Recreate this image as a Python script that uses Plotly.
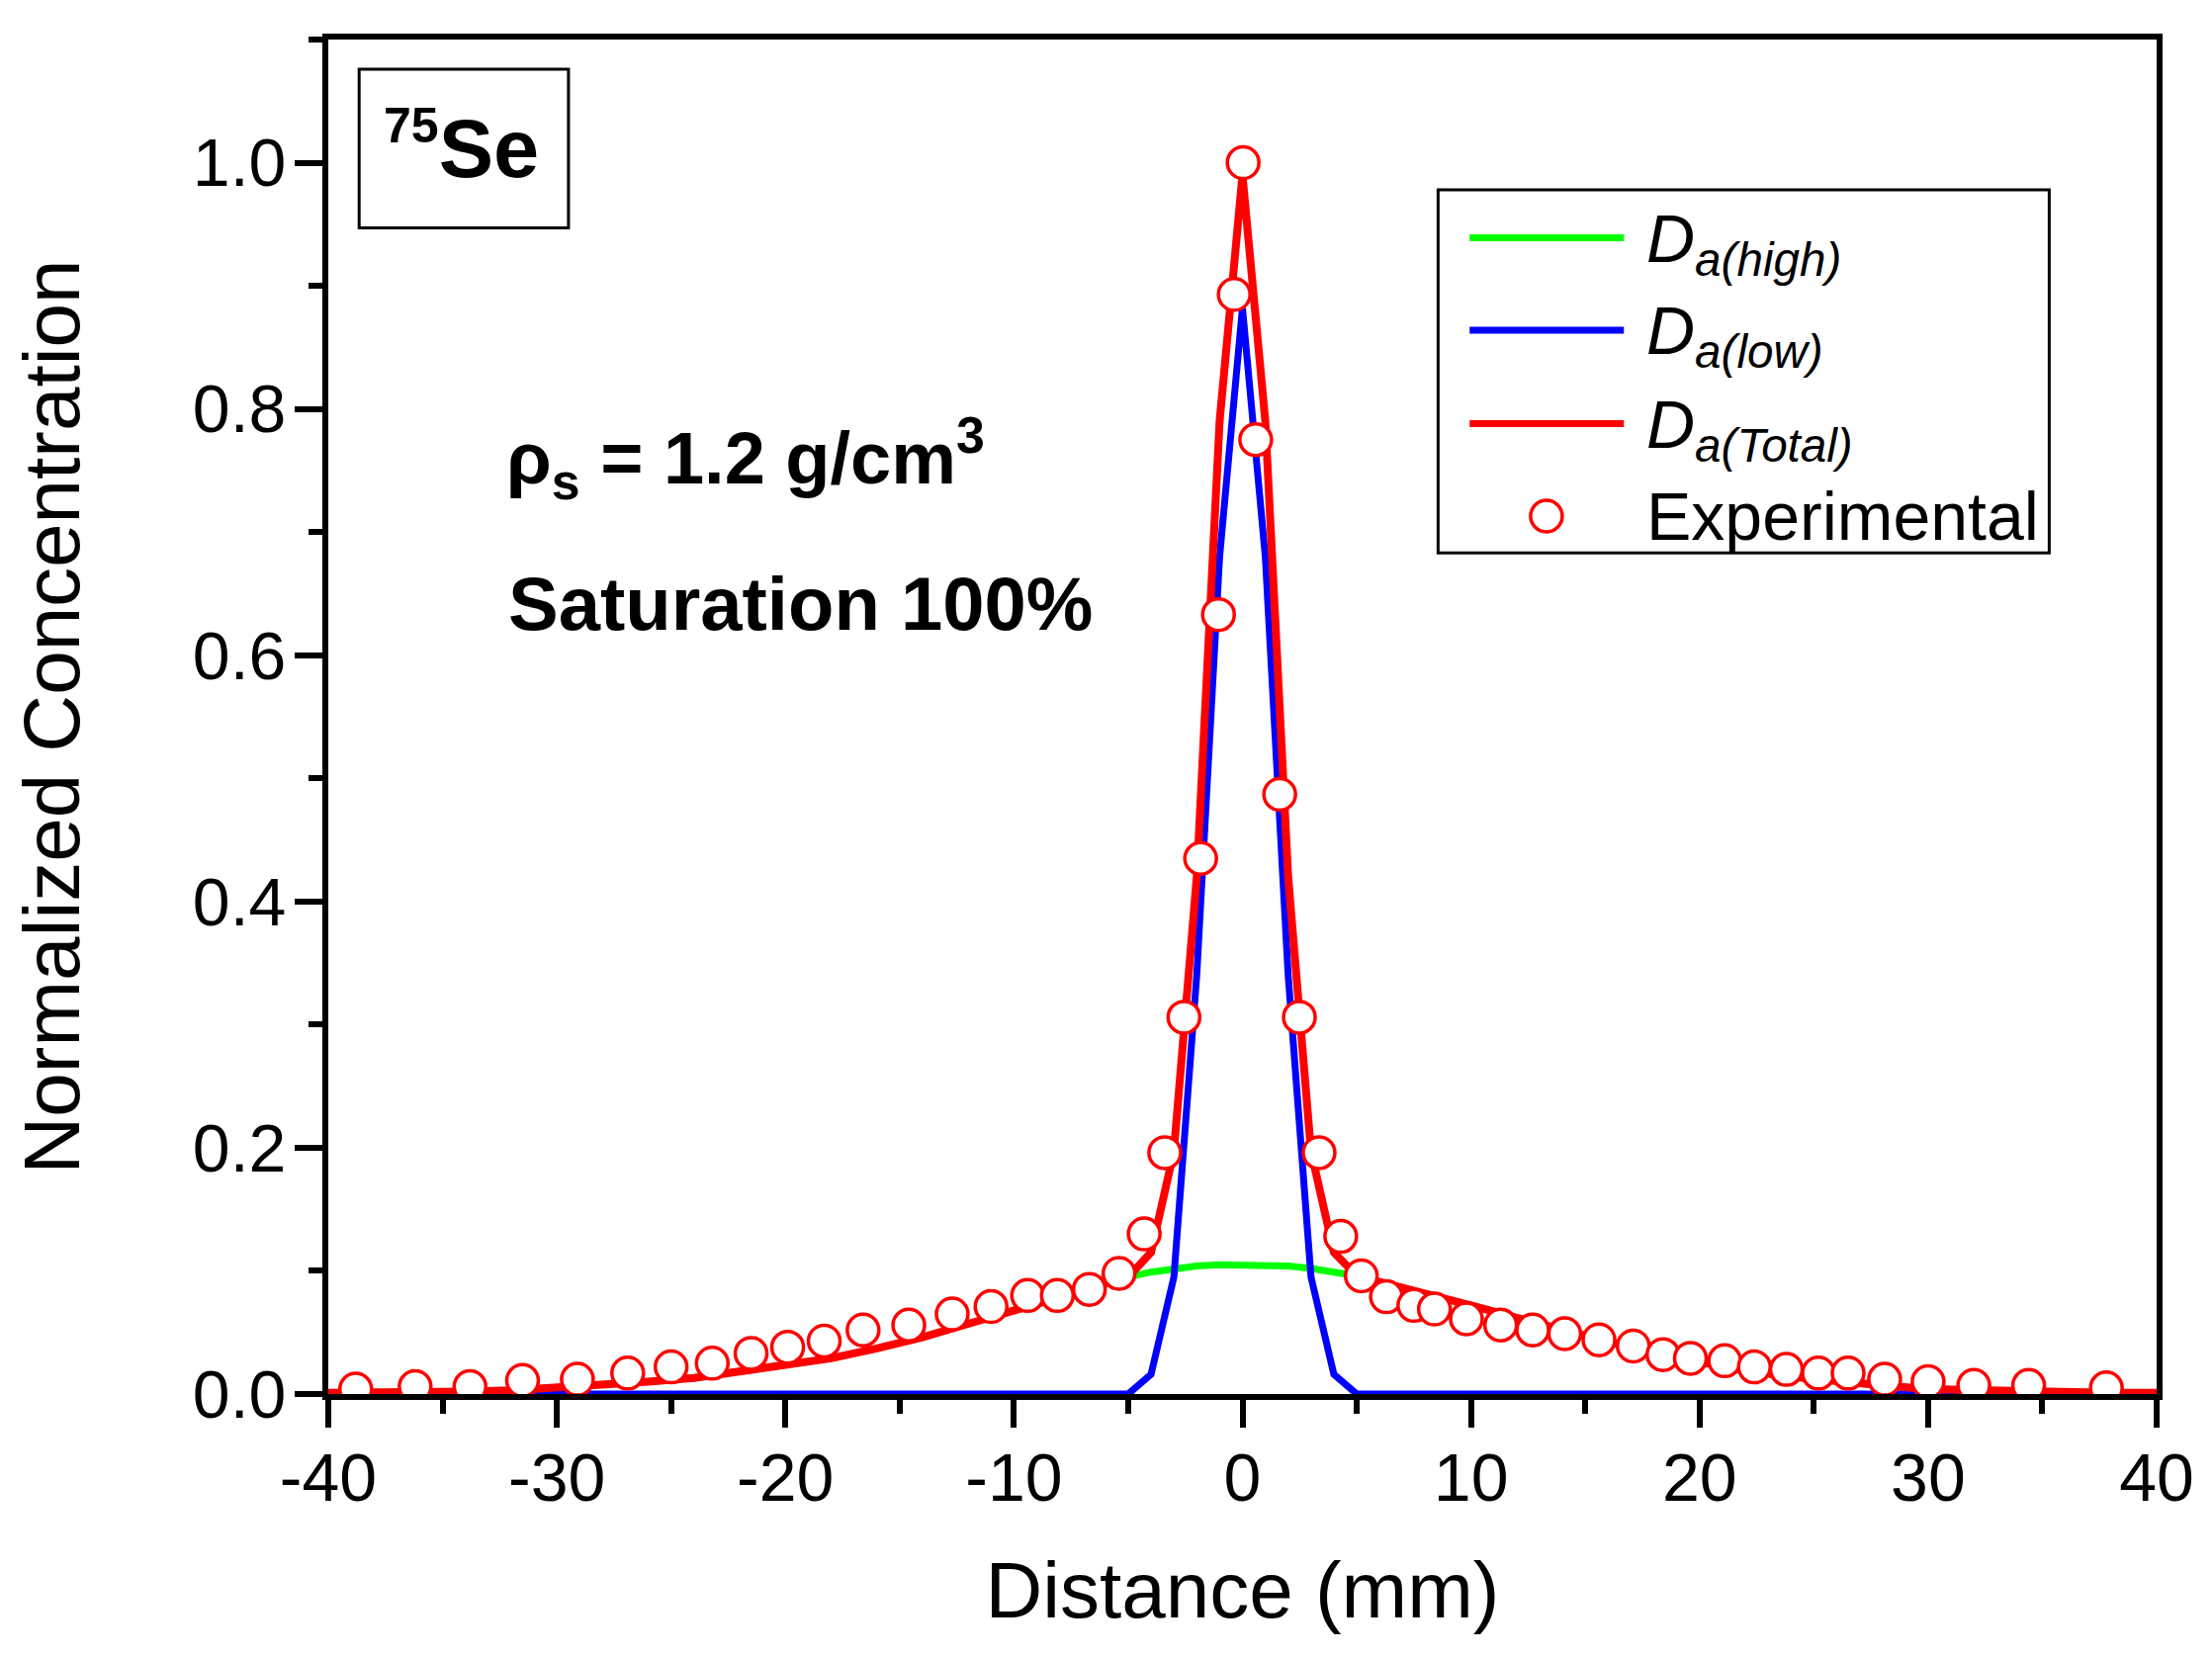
import plotly.graph_objects as go

# model curves
x_model = [-40, -38, -36, -34, -32, -30, -28, -26, -24, -22, -20, -18, -16, -14, -12, -10, -8, -6,
           -5, -4, -3, -2, -1, 0, 1, 2, 3, 4, 5,
           6, 8, 10, 12, 14, 16, 18, 20, 22, 24, 26, 28, 30, 32, 34, 36, 38, 40]
d_high = [0.001, 0.001, 0.002, 0.002, 0.003, 0.005, 0.007, 0.010, 0.013, 0.018, 0.023, 0.029, 0.037, 0.046, 0.057, 0.068, 0.079, 0.090,
          0.095, 0.099, 0.102, 0.104, 0.105, 0.105, 0.105, 0.104, 0.102, 0.099, 0.096,
          0.091, 0.082, 0.072, 0.062, 0.052, 0.042, 0.033, 0.026, 0.019, 0.014, 0.010, 0.007, 0.004, 0.003, 0.002, 0.002, 0.001, 0.001]
d_low = [0, 0, 0, 0, 0, 0, 0, 0, 0, 0, 0, 0, 0, 0, 0, 0, 0, 0,
         0, 0.016, 0.095, 0.34, 0.68, 0.882, 0.68, 0.34, 0.095, 0.016, 0,
         0, 0, 0, 0, 0, 0, 0, 0, 0, 0, 0, 0, 0, 0, 0, 0, 0, 0]
d_total = [0.001, 0.001, 0.002, 0.002, 0.003, 0.005, 0.007, 0.010, 0.013, 0.018, 0.023, 0.029, 0.037, 0.046, 0.057, 0.068, 0.079, 0.090,
           0.095, 0.115, 0.197, 0.42, 0.79, 0.99, 0.79, 0.42, 0.197, 0.115, 0.096,
           0.091, 0.082, 0.072, 0.062, 0.052, 0.042, 0.033, 0.026, 0.019, 0.014, 0.010, 0.007, 0.004, 0.003, 0.002, 0.002, 0.001, 0.001]

# experimental points
x_exp = [-38.8, -36.2, -33.8, -31.5, -29.1, -26.9, -25.0, -23.2, -21.5, -19.9,
         -18.3, -16.6, -14.6, -12.7, -11.0, -9.4, -8.1, -6.7, -5.4, -4.3,
         -3.4, -2.56, -1.83, -1.05, -0.36, 0.03, 0.58, 1.63, 2.49, 3.35,
         4.3, 5.2, 6.3, 7.5, 8.4, 9.8, 11.3, 12.7, 14.1, 15.6,
         17.1, 18.4, 19.6, 21.1, 22.4, 23.8, 25.2, 26.5, 28.1, 30.0,
         32.0, 34.4, 37.8]
y_exp = [0.004, 0.006, 0.006, 0.011, 0.012, 0.017, 0.022, 0.025, 0.033, 0.038,
         0.043, 0.052, 0.056, 0.065, 0.071, 0.080, 0.080, 0.085, 0.098, 0.130,
         0.196, 0.306, 0.435, 0.633, 0.893, 1.0, 0.775, 0.487, 0.306, 0.196,
         0.128, 0.096, 0.079, 0.072, 0.069, 0.061, 0.056, 0.052, 0.049, 0.044,
         0.039, 0.032, 0.029, 0.027, 0.022, 0.020, 0.017, 0.017, 0.012, 0.010,
         0.007, 0.007, 0.005]

# tick labels (plain hyphen minus, as in the original)
x_ticks = [-40, -30, -20, -10, 0, 10, 20, 30, 40]
x_ticklabels = ['-40', '-30', '-20', '-10', '0', '10', '20', '30', '40']
y_ticks = [0.0, 0.2, 0.4, 0.6, 0.8, 1.0]
y_ticklabels = ['0.0', '0.2', '0.4', '0.6', '0.8', '1.0']

FONT = 'Liberation Sans, Arial, sans-serif'
GREEN, BLUE, RED = '#00FF00', '#0000FF', '#FF0000'

fig = go.Figure()
fig.add_trace(go.Scatter(x=x_model, y=d_high, mode='lines', name='D_a(high)',
                         line=dict(color=GREEN, width=7), showlegend=False))
fig.add_trace(go.Scatter(x=x_model, y=d_low, mode='lines', name='D_a(low)',
                         line=dict(color=BLUE, width=7), showlegend=False))
fig.add_trace(go.Scatter(x=x_model, y=d_total, mode='lines', name='D_a(Total)',
                         line=dict(color=RED, width=8), showlegend=False))
fig.add_trace(go.Scatter(x=x_exp, y=y_exp, mode='markers', name='Experimental',
                         marker=dict(symbol='circle', size=32, color='white',
                                     line=dict(color=RED, width=3.5)),
                         showlegend=False))

axis_common = dict(showline=True, linecolor='black', linewidth=6, mirror=True,
                   ticks='outside', ticklen=28, tickwidth=6, tickcolor='black',
                   showgrid=False, zeroline=False,
                   tickfont=dict(family=FONT, size=68, color='black'))

fig.update_xaxes(range=[-40, 40], tickmode='array', tickvals=x_ticks, ticktext=x_ticklabels,
                 ticklabelstandoff=-8,
                 minor=dict(dtick=5, ticks='outside', ticklen=14, tickwidth=6, tickcolor='black'),
                 title=dict(text='Distance (mm)', font=dict(family=FONT, size=80, color='black'),
                            standoff=51),
                 **axis_common)
fig.update_yaxes(range=[0, 1.1], tickmode='array', tickvals=y_ticks, ticktext=y_ticklabels,
                 ticklabelstandoff=-5,
                 minor=dict(dtick=0.1, tick0=0, ticks='outside', ticklen=14, tickwidth=6, tickcolor='black'),
                 title=dict(text='Normalized Concentration', font=dict(family=FONT, size=80, color='black'),
                            standoff=96),
                 **axis_common)

# manual legend
legend_rows = [('<i>D</i><sub><i>a(high)</i></sub>', GREEN, 0.939),
               ('<i>D</i><sub><i>a(low)</i></sub>', BLUE, 0.864),
               ('<i>D</i><sub><i>a(Total)</i></sub>', RED, 0.788)]
shapes = [dict(type='rect', xref='x', yref='y', x0=8.56, x1=35.3, y0=0.683, y1=0.978,
               line=dict(color='black', width=3), fillcolor='rgba(0,0,0,0)'),
          dict(type='rect', xref='x', yref='y', x0=-38.65, x1=-29.49, y0=0.947, y1=1.076,
               line=dict(color='black', width=3), fillcolor='rgba(0,0,0,0)')]
annotations = []
for txt, col, yy in legend_rows:
    shapes.append(dict(type='line', xref='x', yref='y', x0=9.94, x1=16.69, y0=yy, y1=yy,
                       line=dict(color=col, width=7)))
    annotations.append(dict(x=17.6, y=yy, xref='x', yref='y', text=txt, showarrow=False,
                            xanchor='left', yanchor='middle', yshift=-5,
                            font=dict(family=FONT, size=68, color='black')))
fig.add_trace(go.Scatter(x=[13.3], y=[0.713], mode='markers', showlegend=False, hoverinfo='skip',
                         marker=dict(symbol='circle', size=32, color='white',
                                     line=dict(color=RED, width=3.5))))
annotations.append(dict(x=17.6, y=0.713, xref='x', yref='y', text='Experimental', showarrow=False,
                        xanchor='left', yanchor='middle',
                        font=dict(family=FONT, size=68, color='black')))

annotations.append(dict(x=-34.2, y=1.013, xref='x', yref='y',
                        text='<b><sup><span style="font-size:50px">75</span></sup>Se</b>',
                        showarrow=False, xanchor='center', yanchor='middle',
                        font=dict(family=FONT, size=83, color='black')))
annotations.append(dict(x=-32.3, y=0.760, xref='x', yref='y',
                        text='<b>ρ<sub>s</sub> = 1.2 g/cm<sup>3</sup></b>',
                        showarrow=False, xanchor='left', yanchor='middle',
                        font=dict(family=FONT, size=74, color='black')))
annotations.append(dict(x=-32.2, y=0.642, xref='x', yref='y', text='<b>Saturation 100%</b>',
                        showarrow=False, xanchor='left', yanchor='middle',
                        font=dict(family=FONT, size=76, color='black')))

# the page body has an 8 px margin, so the figure is made smaller to fit the window
fig.update_layout(width=2221, height=1660,
                  margin=dict(l=324, r=48, t=32, b=258, autoexpand=False),
                  plot_bgcolor='white', paper_bgcolor='white',
                  shapes=shapes, annotations=annotations, showlegend=False)

fig.write_html('out.html')
